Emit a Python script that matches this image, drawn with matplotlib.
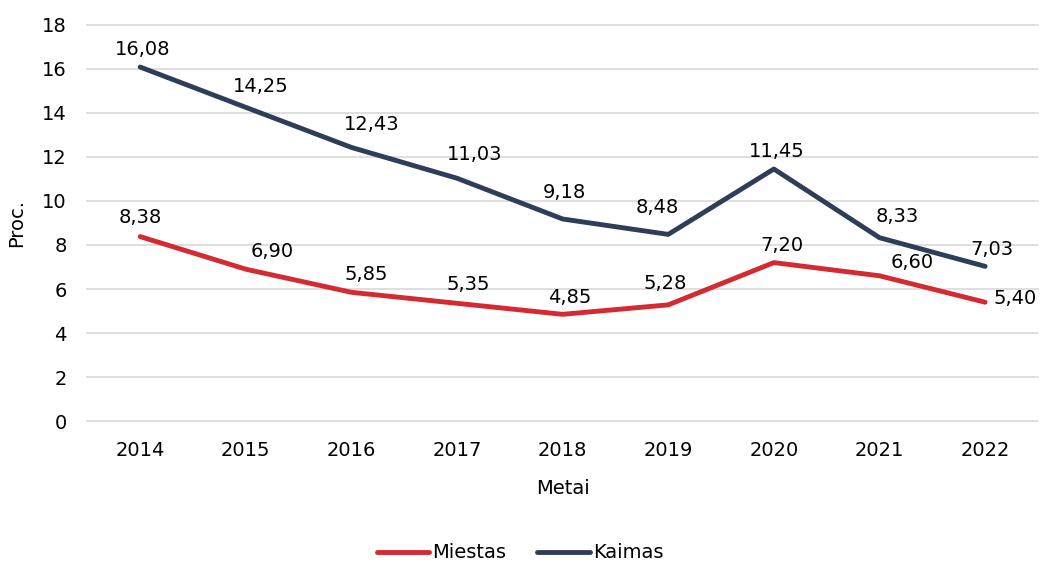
import matplotlib
matplotlib.use("Agg")
from matplotlib import pyplot as plt

years = ["2014", "2015", "2016", "2017", "2018", "2019", "2020", "2021", "2022"]
miestas = [8.38, 6.90, 5.85, 5.35, 4.85, 5.28, 7.20, 6.60, 5.40]
kaimas = [16.08, 14.25, 12.43, 11.03, 9.18, 8.48, 11.45, 8.33, 7.03]

# label nudges in pixels (dx, dy), like the hand-placed labels in the original
kaimas_off = [(2, 18), (15, 21), (20, 23), (18, 24), (2, 26), (-11, 27), (3, 18), (18, 21), (7, 17)]
miestas_off = [(0, 19), (26, 18), (15, 18), (11, 19), (7, 17), (-3, 21), (8, 17), (33, 13), (30, 4)]

red = "#d42a32"
navy = "#2e3e58"
fs = 14

plt.rcParams["font.family"] = "DejaVu Sans"

fig = plt.figure(figsize=(10.4, 5.63), dpi=100)
ax = fig.add_axes([0.084, 0.252, 0.914, 0.704])

x = list(range(len(years)))
ax.plot(x, miestas, color=red, lw=3.5, label="Miestas", solid_capstyle="round")
ax.plot(x, kaimas, color=navy, lw=3.5, label="Kaimas", solid_capstyle="round")

def fmt(v):
    return f"{v:.2f}".replace(".", ",")

for vals, offs in [(kaimas, kaimas_off), (miestas, miestas_off)]:
    for i, v in enumerate(vals):
        ax.annotate(fmt(v), (i, v), xytext=offs[i], textcoords="offset pixels",
                    ha="center", va="center", fontsize=fs)

ax.set_xlim(-0.5, len(years) - 0.5)
ax.set_ylim(0, 18)
ax.set_yticks(range(0, 19, 2))
ax.set_xticks(x)
ax.set_xticklabels(years)
ax.tick_params(axis="x", length=0, labelsize=fs, pad=14)
ax.tick_params(axis="y", length=0, labelsize=fs, pad=15)
ax.grid(axis="y", color="#d9d9d9", lw=1.2)
for g in ax.get_ygridlines():
    g.set_clip_on(False)
ax.set_axisbelow(True)
for s in ax.spines.values():
    s.set_visible(False)
ax.set_xlabel("Metai", fontsize=fs, labelpad=14)
ax.set_ylabel("Proc.", fontsize=fs, labelpad=11)

fig.legend(loc="lower center", bbox_to_anchor=(0.5, -0.03), ncol=2, frameon=False,
           fontsize=fs, handlelength=2.7, handletextpad=0.15, columnspacing=1.6)

fig.savefig("out.png", dpi=100)
